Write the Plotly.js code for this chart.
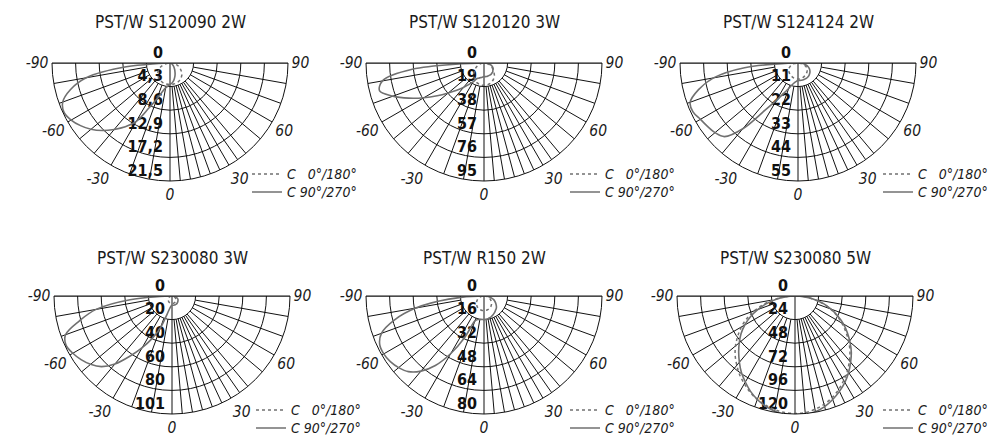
<!DOCTYPE html>
<html><head><meta charset="utf-8">
<script src="https://cdn.plot.ly/plotly-3.0.1.min.js"></script>
<style>html,body{margin:0;padding:0;background:#fff}#chart{width:996px;height:437px}</style>
</head><body><div id="chart"></div>
<script>
// ---- data ----
const titles = ["PST/W S120090 2W","PST/W S120120 3W","PST/W S124124 2W","PST/W S230080 3W","PST/W R150 2W","PST/W S230080 5W"];
const seriesNames = ["C \u20070°/180°","C 90°/270°"];
const angles = [-90,-85,-80,-75,-70,-65,-60,-55,-50,-45,-40,-35,-30,-25,-20,-15,-10,-5,0,5,10,15,20,25,30,35,40,45,50,55,60,65,70,75,80,85,90];
const angleTickVals = [-90,-60,-30,0,30,60,90];
const angleTickText = ["-90","-60","-30","0","30","60","90"];
const spokeAngles = [-80,-70,-60,-50,-40,-30,-20,-10,5,10,15,20,25,30,35,40,50,60,70,80];

const rings1 = [4.3,8.6,12.9,17.2,21.5];   const ringText1 = ["4,3","8,6","12,9","17,2","21,5"];
const rings2 = [19,38,57,76,95];           const ringText2 = ["19","38","57","76","95"];
const rings3 = [11,22,33,44,55];           const ringText3 = ["11","22","33","44","55"];
const rings4 = [20.2,40.4,60.6,80.8,101];  const ringText4 = ["20","40","60","80","101"];
const rings5 = [16,32,48,64,80];           const ringText5 = ["16","32","48","64","80"];
const rings6 = [24,48,72,96,120];          const ringText6 = ["24","48","72","96","120"];

const c1_c0  = [0,0.4,0.8,1.2,1.6,2.0,2.3,2.6,2.9,3.1,3.3,3.5,3.6,3.7,3.8,3.85,3.9,3.9,3.9,3.9,3.9,3.85,3.8,3.7,3.6,3.45,3.25,3.05,2.8,2.5,2.2,1.9,1.6,1.2,0.8,0.4,0];
const c1_c90 = [0,8,15.5,18.8,20.8,21.3,20.8,19.9,18.8,17.4,15.8,14.2,12.3,9,7,5.4,4.6,4.2,3.9,3.7,3.4,3.0,2.6,2.2,1.8,1.5,1.2,1.0,0.8,0.6,0.5,0.4,0.3,0.2,0.1,0.05,0];
const c2_c0  = [0,1.2,2.5,3.8,5,6.2,7.5,8.8,10,11.5,13,14,15.2,16,16.8,17.3,17.7,18,18,18,17.7,17.3,16.8,16,15.2,14,13,11.5,10,8.8,7.5,6.2,5,3.8,2.5,1.2,0];
const c2_c90 = [0,58,83,87,78,67,56,46,37.5,31,25.8,21,17.5,14,13,12.3,11.8,11.3,11,11,11,11,10.9,10.8,10.8,10.5,10.2,10,9.3,8.9,8.5,7.6,6.6,5.3,4,2,0];
const c3_c0  = [0,0.9,1.8,2.6,3.5,4.2,4.8,5.2,5.6,5.9,6.2,6.5,6.7,6.9,7.1,7.3,7.4,7.5,7.5,7.5,7.4,7.3,7.1,6.9,6.7,6.5,6.2,5.9,5.6,5.2,4.8,4.2,3.5,2.6,1.8,0.9,0];
const c3_c90 = [0,25,40,48,53.5,54,52.5,51.5,50.5,48.5,40,27,20,15.5,12.5,10.5,9.3,8.6,8.2,8.2,8.2,8.2,8.2,8.1,8.1,8,7.8,7.5,7.2,6.8,6.3,5.7,5,4.1,3,1.6,0];
const c4_c0  = [0,0.6,1.2,1.8,2.3,2.8,3.3,3.8,4.2,4.6,5,5.3,5.6,5.9,6.1,6.3,6.4,6.5,6.5,6.5,6.4,6.3,6.1,5.9,5.6,5.3,5,4.6,4.2,3.8,3.3,2.8,2.3,1.8,1.2,0.6,0];
const c4_c90 = [0,36,66,82,97,100,98,95,91,85.5,76,63,51,40,29,16,10.5,8.6,8,8,8,8,8,7.9,7.8,7.6,7.3,7,6.6,6.3,5.9,5.2,4.5,3.6,2.7,1.4,0];
const c5_c0  = [0,1,2,2.8,3.7,4.5,5.2,5.9,6.6,7.2,7.8,8.3,8.8,9.1,9.4,9.6,9.8,9.9,10,9.9,9.8,9.6,9.4,9.1,8.8,8.3,7.8,7.2,6.6,5.9,5.2,4.5,3.7,2.8,2,1,0];
const c5_c90 = [0,24,47,63,74,78,78.5,77.5,75.5,72.5,66.5,57.5,45,31,18,16.5,16.2,16,16,15.8,15.6,15.2,14.8,14.2,13.6,13,12.3,11.8,11,10,9,8,6.8,5.4,3.8,2,0];
const c6_c0  = [0,11,22,33,44,54,63,71,79,86,92,98,103,108,112,115,117.5,119,119.5,119,117,114,110,105,99,93,86,79,71,63,55,47,38,29,19.5,10,0];
const c6_c90 = [0,10,20,30,40,50,59,67,74,81,88,95,101,107,112,116,119,121,121.5,121,119.5,116.5,112,107,101.5,95,88,81,73,65,57,48,39,30,20,10,0];

const rings = [rings1,rings2,rings3,rings4,rings5,rings6];
const ringTexts = [ringText1,ringText2,ringText3,ringText4,ringText5,ringText6];
const dataSeries = [[c1_c0,c1_c90],[c2_c0,c2_c90],[c3_c0,c3_c90],[c4_c0,c4_c90],[c5_c0,c5_c90],[c6_c0,c6_c90]];

// ---- layout geometry ----
const W = 996, H = 437, R = 118;
const centers = [[170,63],[484,63],[798,63],[172,296],[484,296],[795,296]];
const titleY = [22,22,22,258,258,258];
const legendX = [247,565,878,251,565,878];
const legendRowY = [[174,192],[174,192],[174,192],[410,428],[410,428],[410,428]];
const LEG_TOP_OFFSET = 15.6;   // distance from legend box top to its first item centre

const FONT = '"DejaVu Sans Condensed", "DejaVu Sans", sans-serif';
const lineStyles = [
  {color:'#707070', width:1.5, dash:'dot', shape:'spline'},
  {color:'#707070', width:1.6, shape:'spline'}
];
const traces = [];
const layout = {
  width: W, height: H,
  margin: {l:0, r:0, t:0, b:0, autoexpand: false},
  paper_bgcolor: '#fff',
  showlegend: true,
  annotations: [],
  font: {family: FONT, color: '#1a1a1a'}
};

// angular axis range in Plotly runs 270..450 for this half-circle sector
const angTickPos = angleTickVals.map(a => a + 360);
// label drawn above its ring (second empty line lifts the label half a line)
const lift = t => t + '<br>\u00A0';

for (let k = 0; k < 6; k++) {
  const pid = k === 0 ? 'polar' : 'polar' + (k + 1);
  const rr = rings[k];
  const rMax = rr[rr.length - 1];
  const [cx, cy] = centers[k];

  // grid: spokes from the first ring to the outer ring, plus the horizontal diameter
  const gr = [], gt = [];
  spokeAngles.forEach(a => { gr.push(rr[0], rMax, null); gt.push(a, a, null); });
  gr.push(rMax, 0, rMax); gt.push(-90, -90, 90);
  traces.push({type:'scatterpolar', subplot: pid, r: gr, theta: gt, mode:'lines',
    line:{color:'#111', width:1}, showlegend:false, hoverinfo:'skip'});

  for (let s = 0; s < 2; s++) {
    const n = 2 * k + s + 1;
    const lid = n === 1 ? 'legend' : 'legend' + n;
    traces.push({type:'scatterpolar', subplot: pid, legend: lid, name: seriesNames[s],
      r: dataSeries[k][s], theta: angles, mode:'lines', line: lineStyles[s]});
    layout[lid] = {
      x: legendX[k] / W, y: 1 - (legendRowY[k][s] - LEG_TOP_OFFSET) / H,
      xanchor: 'left', yanchor: 'top',
      bgcolor: 'rgba(0,0,0,0)', borderwidth: 0, itemwidth: 30,
      font: {family: FONT, size: 14, style: 'italic', color: '#1a1a1a'}
    };
  }

  layout[pid] = {
    domain: {x: [(cx - R) / W, (cx + R) / W], y: [(H - cy - R) / H, (H - cy) / H]},
    sector: [180, 360],
    bgcolor: 'rgba(0,0,0,0)',
    angularaxis: {
      rotation: 270, direction: 'counterclockwise',
      tickvals: angTickPos, ticktext: angleTickText,
      showgrid: false, showline: true, linecolor: '#111', linewidth: 1,
      ticks: '',
      tickfont: {family: FONT, size: 15.5, style: 'italic', color: '#1a1a1a'}
    },
    radialaxis: {
      range: [0, rMax], angle: 270, side: 'clockwise', tickangle: -90,
      tickvals: [0].concat(rr), ticktext: ['0'].concat(ringTexts[k]).map(lift),
      showgrid: true, gridcolor: '#111', gridwidth: 1,
      showline: true, linecolor: '#111', linewidth: 1,
      ticks: '', layer: 'below traces',
      tickfont: {family: FONT, size: 16, weight: 'bold', color: '#111'}
    }
  };

  layout.annotations.push({
    text: titles[k], xref: 'paper', yref: 'paper',
    x: cx / W, y: 1 - titleY[k] / H, xanchor: 'center', yanchor: 'middle',
    showarrow: false, font: {family: FONT, size: 17, color: '#1a1a1a'}
  });
}

Plotly.newPlot('chart', traces, layout, {staticPlot: true, displayModeBar: false});
</script>
</body></html>
